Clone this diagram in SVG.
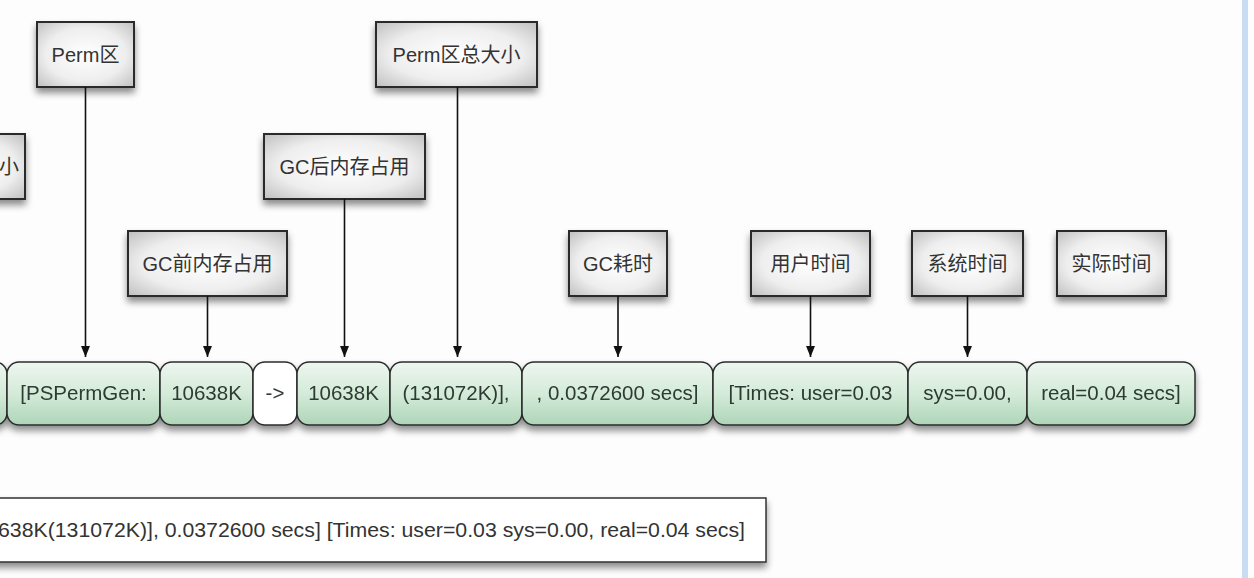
<svg xmlns="http://www.w3.org/2000/svg" width="1254" height="578" viewBox="0 0 1254 578">
<defs>
<style>
.lbl rect{fill:url(#gray);stroke:#2b2b2b;stroke-width:2;filter:url(#sh)}
.lbl text{font-family:"Liberation Sans","Noto Sans CJK SC",sans-serif;font-size:20px;fill:#333;text-anchor:middle}
.seg rect{fill:url(#green);stroke:#2b2b2b;stroke-width:1.5}
.seg text{font-family:"Liberation Sans","Noto Sans CJK SC",sans-serif;font-size:20.5px;fill:#2e3a30;text-anchor:middle}
.conn line{stroke:#111;stroke-width:1.6;marker-end:url(#arr)}
.plain{font-family:"Liberation Sans","Noto Sans CJK SC",sans-serif;font-size:20px;fill:#333}
</style>
<radialGradient id="gray" cx="0.5" cy="0.5" r="0.75">
<stop offset="0" stop-color="#ffffff"/>
<stop offset="0.55" stop-color="#eeeeee"/>
<stop offset="1" stop-color="#b8b8b8"/>
</radialGradient>
<linearGradient id="green" x1="0" y1="0" x2="0" y2="1">
<stop offset="0" stop-color="#edf6ef"/>
<stop offset="0.5" stop-color="#d4ebd9"/>
<stop offset="1" stop-color="#aed5b8"/>
</linearGradient>
<filter id="sh" x="-20%" y="-20%" width="140%" height="160%">
<feDropShadow dx="0" dy="5" stdDeviation="3.5" flood-color="#000" flood-opacity="0.45"/>
</filter>
<marker id="arr" markerUnits="userSpaceOnUse" markerWidth="12" markerHeight="12" refX="11" refY="5" orient="auto">
<path d="M0,0.5 L11,5 L0,9.5 z" fill="#111"/>
</marker>
</defs>
<rect x="0" y="0" width="1254" height="578" fill="#fdfdfd"/>
<rect x="1242" y="0" width="6" height="578" fill="#c8dcf4"/>

<g id="node-partial-top" class="lbl"><rect x="-80" y="134" width="105" height="65"/><text x="9" y="174">小</text></g>
<g id="node-perm" class="lbl"><rect x="37" y="22" width="97" height="65"/><text x="85.5" y="62">Perm区</text></g>
<g id="node-perm-total" class="lbl"><rect x="376" y="22" width="161" height="65"/><text x="456.5" y="62">Perm区总大小</text></g>
<g id="node-gc-after" class="lbl"><rect x="264" y="134" width="161" height="65"/><text x="344.5" y="174">GC后内存占用</text></g>
<g id="node-gc-before" class="lbl"><rect x="128" y="231" width="159" height="65"/><text x="207.5" y="271">GC前内存占用</text></g>
<g id="node-gc-time" class="lbl"><rect x="569" y="231" width="98" height="65"/><text x="618" y="271">GC耗时</text></g>
<g id="node-user-time" class="lbl"><rect x="751" y="231" width="119" height="65"/><text x="810.5" y="271">用户时间</text></g>
<g id="node-sys-time" class="lbl"><rect x="912" y="231" width="111" height="65"/><text x="967.5" y="271">系统时间</text></g>
<g id="node-real-time" class="lbl"><rect x="1057" y="231" width="109" height="65"/><text x="1111.5" y="271">实际时间</text></g>

<g id="row" filter="url(#sh)">
<g id="seg-partial" class="seg"><rect x="-40" y="362" width="47" height="63" rx="12"/></g>
<g id="seg-pspermgen" class="seg"><rect x="7" y="362" width="153" height="63" rx="12"/><text x="83.5" y="400">[PSPermGen:</text></g>
<g id="seg-before" class="seg"><rect x="160" y="362" width="93" height="63" rx="12"/><text x="206.5" y="400">10638K</text></g>
<g id="seg-arrow" class="seg"><rect x="253" y="362" width="44" height="63" rx="12" style="fill:#ffffff"/><text x="275" y="400">-&gt;</text></g>
<g id="seg-after" class="seg"><rect x="297" y="362" width="93" height="63" rx="12"/><text x="343.5" y="400">10638K</text></g>
<g id="seg-total" class="seg"><rect x="390" y="362" width="132" height="63" rx="12"/><text x="456" y="400">(131072K)],</text></g>
<g id="seg-secs" class="seg"><rect x="522" y="362" width="191" height="63" rx="12"/><text x="617.5" y="400">, 0.0372600 secs]</text></g>
<g id="seg-user" class="seg"><rect x="713" y="362" width="195" height="63" rx="12"/><text x="810.5" y="400">[Times: user=0.03</text></g>
<g id="seg-sys" class="seg"><rect x="908" y="362" width="119" height="63" rx="12"/><text x="967.5" y="400">sys=0.00,</text></g>
<g id="seg-real" class="seg"><rect x="1027" y="362" width="168" height="63" rx="12"/><text x="1111" y="400">real=0.04 secs]</text></g>
</g>

<g id="connectors" class="conn">
<line x1="85.5" y1="87" x2="85.5" y2="357"/>
<line x1="207.5" y1="296" x2="207.5" y2="357"/>
<line x1="344.5" y1="199" x2="344.5" y2="357"/>
<line x1="457.5" y1="87" x2="457.5" y2="357"/>
<line x1="618" y1="296" x2="618" y2="357"/>
<line x1="810.5" y1="296" x2="810.5" y2="357"/>
<line x1="967.5" y1="296" x2="967.5" y2="357"/>
</g>

<g id="node-log-line">
<rect x="-10" y="498" width="776" height="64" fill="#ffffff" stroke="#333" stroke-width="1.5" filter="url(#sh)"/>
<text class="plain" x="-2" y="537" textLength="747" lengthAdjust="spacingAndGlyphs">638K(131072K)], 0.0372600 secs] [Times: user=0.03 sys=0.00, real=0.04 secs]</text>
</g>
</svg>
